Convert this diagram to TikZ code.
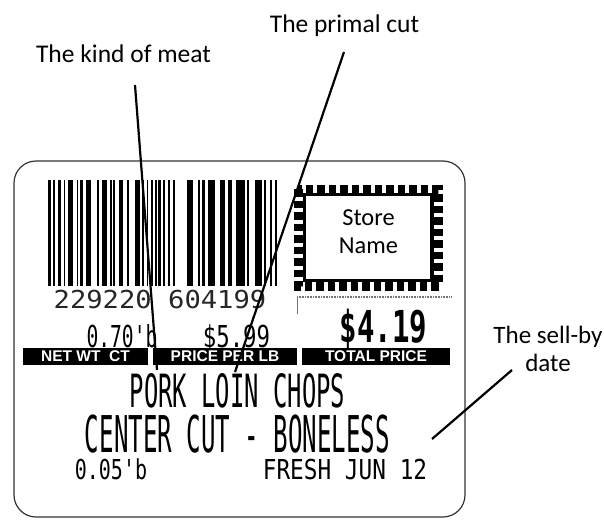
\documentclass[tikz,border=0pt]{standalone}
\usepackage{fontspec}
\usepackage{graphicx}
\setmainfont{Carlito}
\newfontfamily\thermal{DejaVu Sans Mono}
\newfontfamily\barfont{Liberation Sans}
\newcommand\thp[3]{\scalebox{#1}[1]{\fontsize{#2}{#2}\selectfont\thermal #3}}
\newcommand\thpb[3]{\scalebox{#1}[1]{\fontsize{#2}{#2}\selectfont\thermal\bfseries #3}}
\begin{document}
\begin{tikzpicture}[x=1pt,y=-1pt,
  ann/.style={font=\fontsize{25.5}{28}\selectfont, inner sep=0, anchor=base},
  pointer/.style={line width=2.2pt, black},
  lbltxt/.style={inner sep=0, anchor=base},
  barlabel/.style={fill=black, minimum height=17pt, inner sep=0, text=white,
     font=\barfont\bfseries\fontsize{15.5}{16}\selectfont},
  bar/.style={fill=black}]
\useasboundingbox (0,0) rectangle (604,519);

% label outline
\draw[line width=1.2pt, black!80, rounded corners=22pt] (14,161) rectangle (465,517);

% barcode
\foreach \a/\b in {48.3/50.7, 53.3/55, 58.3/60.7, 63.5/65, 68.3/72.7, 76.7/78.3, 80/82.7, 86/90.7,
  96.7/99, 101.7/106.7, 110/111.7, 113.3/115, 119.3/123.3, 127.3/129.3, 135/140, 142/144,
  146.7/148.3, 151/152.7, 155/156.7, 158.3/160.7, 163.3/165, 168.3/170, 173.3/175,
  186.7/193.3, 198.3/200, 201.7/205, 208.3/215, 220/225, 228.3/231.7, 236/245, 247.3/249.3,
  255/261.7, 264/266, 270/271.7, 275/277.3}
  \fill[bar] (\a,180) rectangle (\b,286);

\node[lbltxt, text=black!85] (code) at (160,308) {\thp{1.1}{24.7}{229220 604199}};

% store stamp
\draw[line width=9pt, dash pattern=on 7.5pt off 4pt] (298,189) rectangle (438.5,286);
\draw[line width=3.5pt] (304.5,194.5) rectangle (432,280.5);
\node[font=\fontsize{24.4}{28}\selectfont, align=center, inner sep=0] (store) at (368.5,232) {Store\\Name};
\draw[black!55, line width=1.6pt, dash pattern=on 1pt off 0.6pt] (297,297) -- (452,297);
\draw[black!55, line width=0.8pt] (297,297) -- (297,314);

% weights and prices
\node[lbltxt] (netwt) at (122,347) {\thp{0.65}{30.2}{0.70\textquotesingle b}};
\node[lbltxt] (ppl) at (236.5,347) {\thp{0.74}{30.2}{\$5.99}};
\node[lbltxt] (total) at (383.5,342) {\thpb{0.66}{44}{\$4.19}};

% black bars
\node[barlabel, minimum width=125pt] (b1) at (85.5,356.5) {NET WT\hspace{0.55em}CT};
\node[barlabel, minimum width=144pt] (b2) at (225,356.5) {PRICE PER LB};
\node[barlabel, minimum width=148pt] (b3) at (376,356.5) {TOTAL PRICE};

% product text
\node[lbltxt] (l1) at (237.5,407) {\thp{0.52}{45.8}{PORK LOIN CHOPS}};
\node[lbltxt] (l2) at (237.5,452) {\thp{0.476}{50.7}{CENTER CUT - BONELESS}};
\node[lbltxt] (tare) at (111,479) {\thp{0.73}{27.4}{0.05\textquotesingle b}};
\node[lbltxt] (date) at (345,479) {\thp{0.83}{27.4}{FRESH JUN 12}};

% annotations
\node[ann] (kind) at (123.5,63) {The kind of meat};
\node[ann] (primal) at (344.5,33) {The primal cut};
\node[ann, align=center, font=\fontsize{25}{28}\selectfont] (sell) at (548,371) {The sell-by\\date};

\coordinate (k1) at (135,85); \coordinate (k2) at (157,370);
\coordinate (p1) at (344,52); \coordinate (p2) at (235,372);
\coordinate (s1) at (512,370); \coordinate (s2) at (432,439);
\draw[pointer] (k1) -- (k2);
\draw[pointer] (p1) -- (p2);
\draw[pointer] (s1) -- (s2);
\end{tikzpicture}
\end{document}
